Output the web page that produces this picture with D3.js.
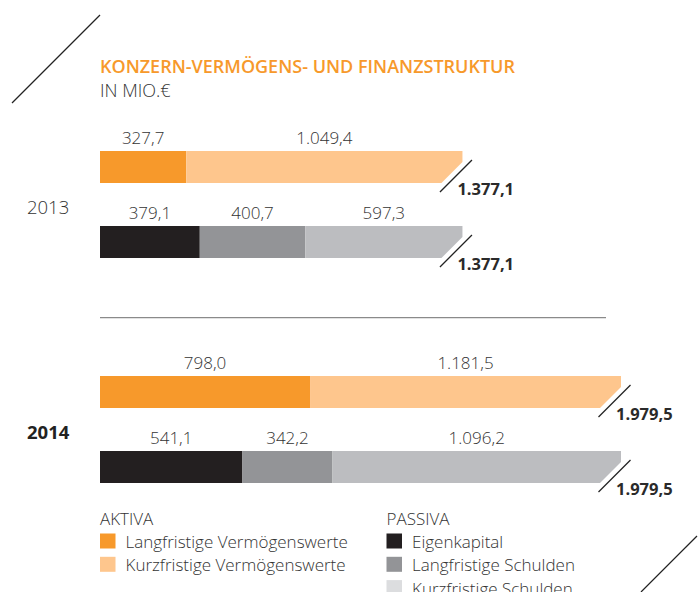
<!DOCTYPE html>
<html><head><meta charset="utf-8">
<script src="https://cdn.jsdelivr.net/npm/d3@7"></script>
<style>
html,body{margin:0;padding:0;background:#fff;}
svg{display:block;font-family:"Open Sans",sans-serif;}
</style></head>
<body>
<svg id="c" width="698" height="592"></svg>
<script>
// ---- data ----
const years = ["2013", "2014"];
const aktivaLangfristig = [327.7, 798.0];
const aktivaKurzfristig = [1049.4, 1181.5];
const eigenkapital = [379.1, 541.1];
const passivaLangfristig = [400.7, 342.2];
const passivaKurzfristig = [597.3, 1096.2];
const totals = [1377.1, 1979.5];
const aktivaLegend = ["Langfristige Vermögenswerte", "Kurzfristige Vermögenswerte"];
const passivaLegend = ["Eigenkapital", "Langfristige Schulden", "Kurzfristige Schulden"];
const title = "KONZERN-VERMÖGENS- UND FINANZSTRUKTUR";
const subtitle = "IN MIO.€";

const colAktiva = ["#f7992b", "#fec68d"];
const colPassiva = ["#231f20", "#939497", "#bcbdc0"];
const colPassivaLegend = ["#231f20", "#939497", "#dcdddf"];

const de = d3.formatLocale({decimal: ",", thousands: ".", grouping: [3], currency: ["", "€"]});
const fmt = de.format(",.1f");

const svg = d3.select("#c");
const textCol = "#333333";

// decorative slashes
svg.append("line").attr("x1", 100).attr("y1", 15).attr("x2", 12).attr("y2", 103)
  .attr("stroke", "#222").attr("stroke-width", 1.2);
svg.append("line").attr("x1", 697).attr("y1", 536).attr("x2", 641).attr("y2", 592)
  .attr("stroke", "#222").attr("stroke-width", 1.2);

// titles
svg.append("text").attr("x", 100).attr("y", 73).text(title)
  .attr("fill", "#f7992b").attr("font-size", 18).attr("font-weight", 600);
svg.append("text").attr("x", 100).attr("y", 97).text(subtitle)
  .attr("fill", textCol).attr("font-size", 18).attr("font-weight", 300);

// scales
const x = d3.scaleLinear().domain([0, 1979.5]).range([100, 621]);
const yYear = d3.scalePoint().domain(years).range([151, 376]);
const yRow = d3.scalePoint().domain(["aktiva", "passiva"]).range([0, 75]);
const barH = 32;
const cut = 21;

function drawRow(yearIdx, rowKey, values, colors, total) {
  const top = yYear(years[yearIdx]) + yRow(rowKey);
  const bot = top + barH;
  const g = svg.append("g");
  let acc = 0;
  const segs = values.map((v, i) => { const s = {start: acc, end: acc + v, v, c: colors[i]}; acc += v; return s; });
  segs.forEach((s, i) => {
    const x0 = x(s.start), x1 = x(s.end);
    if (i < segs.length - 1) {
      g.append("rect").attr("x", x0).attr("y", top).attr("width", x1 - x0).attr("height", barH).attr("fill", s.c);
    } else {
      const X = x(total);
      g.append("path").attr("d", `M${x0},${top}L${X},${top}L${X},${bot - cut}L${X - cut},${bot}L${x0},${bot}Z`).attr("fill", s.c);
    }
    g.append("text").attr("x", (x0 + x1) / 2).attr("y", top - 7).attr("text-anchor", "middle")
      .attr("font-size", 17).attr("font-weight", 300).attr("fill", textCol).text(fmt(s.v));
  });
  const X = x(total);
  g.append("line").attr("x1", X - 22.5).attr("y1", bot + 9).attr("x2", X + 9.5).attr("y2", bot - 23)
    .attr("stroke", "#222").attr("stroke-width", 1.3);
  g.append("text").attr("x", X - 5).attr("y", bot + 12).attr("font-size", 16.5).attr("font-weight", 700)
    .attr("fill", "#2a2a2a").text(fmt(total));
}

years.forEach((yr, i) => {
  drawRow(i, "aktiva", [aktivaLangfristig[i], aktivaKurzfristig[i]], colAktiva, totals[i]);
  drawRow(i, "passiva", [eigenkapital[i], passivaLangfristig[i], passivaKurzfristig[i]], colPassiva, totals[i]);
  svg.append("text").attr("x", 27).attr("y", yYear(yr) + 63).text(yr)
    .attr("font-size", 18.5).attr("font-weight", i === 1 ? 700 : 300).attr("fill", i === 1 ? "#222" : textCol);
});

// divider
svg.append("line").attr("x1", 100).attr("x2", 606).attr("y1", 317.7).attr("y2", 317.7)
  .attr("stroke", "#8a8a8a").attr("stroke-width", 1.3);

// legends
function legend(x0, head, labels, colors) {
  const g = svg.append("g");
  g.append("text").attr("x", x0).attr("y", 525).text(head).attr("font-size", 17).attr("font-weight", 300).attr("fill", textCol);
  labels.forEach((l, i) => {
    const yy = 533.5 + i * 23.3;
    g.append("rect").attr("x", x0).attr("y", yy).attr("width", 15.5).attr("height", 15).attr("fill", colors[i]);
    g.append("text").attr("x", x0 + 25.5).attr("y", yy + 14.5).text(l).attr("font-size", 17).attr("font-weight", 300).attr("fill", textCol);
  });
}
legend(100, "AKTIVA", aktivaLegend, colAktiva);
legend(386.5, "PASSIVA", passivaLegend, colPassivaLegend);
</script>
</body></html>
